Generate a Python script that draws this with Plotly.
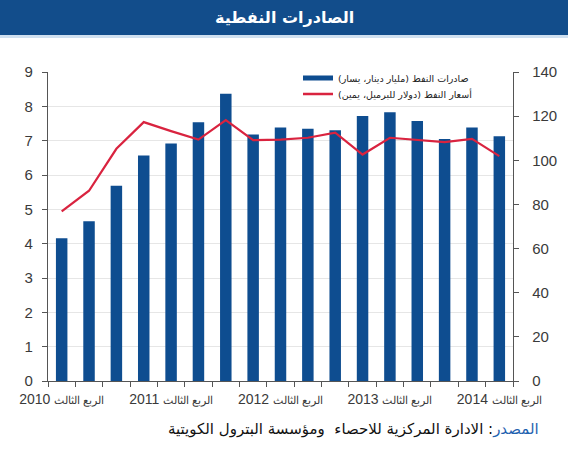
import plotly.graph_objects as go

quarters = list(range(17))
exports = [4.16, 4.65, 5.69, 6.57, 6.92, 7.54, 8.37, 7.18, 7.38, 7.35, 7.30, 7.72, 7.83, 7.57, 7.05, 7.38, 7.13]
prices = [76.8, 86.2, 105.2, 117.3, 113.2, 109.4, 118.2, 109.1, 109.4, 110.2, 112.5, 102.6, 110.2, 109.1, 108.2, 109.7, 101.9]
label_pos = [0, 4, 8, 12, 16]
label_years = ["2010", "2011", "2012", "2013", "2014"]
label_quarter = "الربع الثالث"
left_ticks = list(range(0, 10))
right_ticks = list(range(0, 141, 20))

title = "الصادرات النفطية"
name_exports = "صادرات النفط (مليار دينار، يسار)"
name_prices = "أسعار النفط (دولار للبرميل، يمين)"
source_label = "المصدر"
source_text = ": الادارة المركزية للاحصاء  ومؤسسة البترول الكويتية"

BLUE = "#0e4d90"
RED = "#d9233f"
AX = "#555555"
TXT = "#3a3a3a"

label_text = ["<span style='font-size:10.5px'>" + label_quarter + "</span> " + y for y in label_years]

fig = go.Figure()
fig.add_trace(go.Bar(x=quarters, y=exports, marker=dict(color=BLUE, line=dict(width=0)),
                     width=0.42, showlegend=False, yaxis="y"))
fig.add_trace(go.Scatter(x=quarters, y=prices, mode="lines", line=dict(color=RED, width=2.2),
                         showlegend=False, yaxis="y2"))
# legend entries
fig.add_trace(go.Scatter(x=[None], y=[None], mode="lines", line=dict(color=BLUE, width=5),
                         name=name_exports, yaxis="y", legend="legend"))
fig.add_trace(go.Scatter(x=[None], y=[None], mode="lines", line=dict(color=RED, width=2.5),
                         name=name_prices, yaxis="y", legend="legend2"))

W, H = 568, 450
L, R, T, B = 48, 55, 72, 69
pw = W - L - R
ph = H - T - B

def px_x(x):
    return (x - L) / pw

def px_y(y):
    return (H - B - y) / ph

shapes = [
    dict(type="rect", xref="paper", yref="paper", x0=px_x(0), x1=px_x(W), y0=px_y(35), y1=px_y(0),
         fillcolor="#124d8b", line=dict(width=0), layer="below"),
    dict(type="rect", xref="paper", yref="paper", x0=px_x(0), x1=px_x(W), y0=px_y(38), y1=px_y(35),
         fillcolor="#cfe0f0", line=dict(width=0), layer="below"),
]

annotations = [
    dict(text="<b>" + title + "</b>", xref="paper", yref="paper", x=px_x(W / 2), y=px_y(17),
         showarrow=False, font=dict(family="DejaVu Sans", size=16, color="white"),
         xanchor="center", yanchor="middle"),
    dict(text="<span style='color:#1f62b0'>" + source_label + "</span>" + source_text,
         xref="paper", yref="paper", x=px_x(541), y=px_y(429), showarrow=False,
         font=dict(family="DejaVu Sans", size=15, color="#111111"),
         xanchor="right", yanchor="middle"),
]

leg_common = dict(xanchor="left", yanchor="middle", bgcolor="rgba(255,255,255,0)", borderwidth=0,
                  font=dict(family="DejaVu Sans", size=9.5, color="#222222"), itemwidth=30)

fig.update_layout(
    width=W, height=H,
    margin=dict(l=L, r=R, t=T, b=B, pad=0),
    paper_bgcolor="white", plot_bgcolor="white",
    shapes=shapes, annotations=annotations,
    legend=dict(x=px_x(298), y=px_y(78), **leg_common),
    legend2=dict(x=px_x(298), y=px_y(94), **leg_common),
    xaxis=dict(range=[-0.5, 16.5], tickmode="array", tickvals=label_pos, ticktext=label_text,
               ticks="outside", ticklen=5, tickcolor="rgba(0,0,0,0)",
               showline=True, linecolor=AX, linewidth=1.3, showgrid=False, zeroline=False,
               tickfont=dict(family="Liberation Sans", size=14, color=TXT),
               minor=dict(tickmode="array", tickvals=[i + 0.5 for i in range(-1, 17)],
                          ticks="outside", ticklen=5, tickcolor=AX, tickwidth=1.2, showgrid=False),
               fixedrange=True),
    yaxis=dict(range=[0, 9], tickmode="array", tickvals=left_ticks,
               ticks="outside", ticklen=5, tickcolor=AX, tickwidth=1.2,
               showline=True, linecolor=AX, linewidth=1.3,
               showgrid=True, gridcolor="#e6e6e6", gridwidth=1, zeroline=False,
               tickfont=dict(family="Liberation Sans", size=15, color=TXT),
               ticklabelstandoff=6),
    yaxis2=dict(range=[0, 140], tickmode="array", tickvals=right_ticks, overlaying="y", side="right",
                ticks="outside", ticklen=5, tickcolor=AX, tickwidth=1.2,
                showline=True, linecolor=AX, linewidth=1.3, showgrid=False, zeroline=False,
                tickfont=dict(family="Liberation Sans", size=15, color=TXT),
                ticklabelstandoff=10),
)

fig.write_html("out.html")
